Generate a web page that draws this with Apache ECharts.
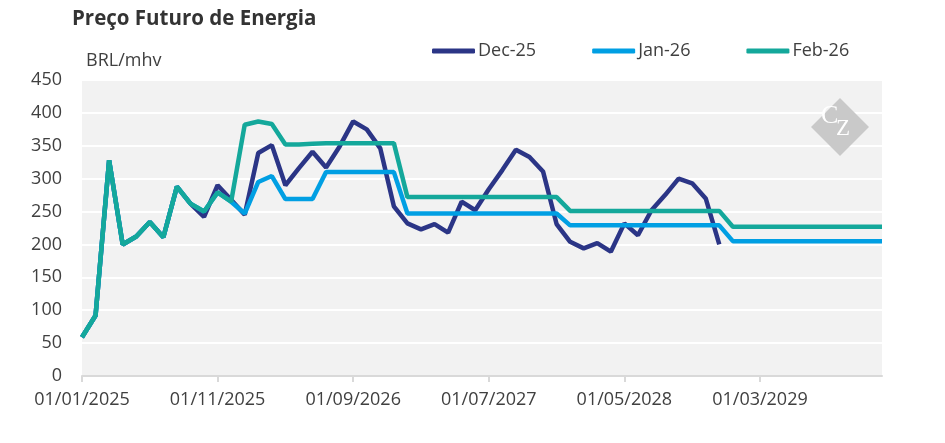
<!DOCTYPE html>
<html>
<head>
<meta charset="utf-8">
<script src="https://cdn.jsdelivr.net/npm/echarts@6/dist/echarts.min.js"></script>
<style>
  html, body { margin: 0; padding: 0; background: #fff; }
  #main { width: 945px; height: 443px; }
</style>
</head>
<body>
<div id="main"></div>
<script>
// meses de jan/2025 a dez/2029
var categories = [];
for (var y = 2025; y <= 2029; y++) {
  for (var m = 1; m <= 12; m++) {
    categories.push('01/' + (m < 10 ? '0' + m : m) + '/' + y);
  }
}

var dec25 = [59, 92, 328, 200, 212, 234, 211, 288, 262, 242, 290, 268,
  245, 339, 351, 290, 316, 341, 317, 349, 387, 375, 346, 258,
  232, 223, 231, 218, 265, 252, 284, 313, 344, 333, 311, 231,
  204, 194, 202, 189, 232, 214, 252, 275, 300, 293, 270, 200];

var jan26 = [59, 92, 328, 200, 212, 234, 211, 288, 262, 250, 279, 265,
  247, 295, 304, 269, 269, 269, 310, 310, 310, 310, 310, 310,
  247, 247, 247, 247, 247, 247, 247, 247, 247, 247, 247, 247,
  229, 229, 229, 229, 229, 229, 229, 229, 229, 229, 229, 229,
  205, 205, 205, 205, 205, 205, 205, 205, 205, 205, 205, 205];

var feb26 = [59, 92, 328, 200, 212, 234, 211, 288, 262, 250, 279, 265,
  382, 387, 383, 352, 352, 353, 354, 354, 354, 354, 354, 354,
  272, 272, 272, 272, 272, 272, 272, 272, 272, 272, 272, 272,
  251, 251, 251, 251, 251, 251, 251, 251, 251, 251, 251, 251,
  227, 227, 227, 227, 227, 227, 227, 227, 227, 227, 227, 227];

var yTicks = [0, 50, 100, 150, 200, 250, 300, 350, 400, 450];

var font = '"Open Sans", sans-serif';
var textColor = '#404040';
var logoFont = 'Liberation Serif';

var myChart = echarts.init(document.getElementById('main'));
myChart.setOption({
  animation: false,
  textStyle: { fontFamily: font },
  title: [
    {
      text: 'Preço Futuro de Energia',
      left: 67,
      top: 4,
      textStyle: { fontFamily: font, fontSize: 20.5, fontWeight: 'bold', color: '#333' }
    },
    {
      text: 'C', left: 821, top: 103, padding: 0, z: 5,
      textStyle: { fontFamily: logoFont, fontSize: 26, fontWeight: 'normal', color: '#ffffff' }
    },
    {
      text: 'Z', left: 836, top: 117, padding: 0, z: 5,
      textStyle: { fontFamily: logoFont, fontSize: 23, fontWeight: 'normal', color: '#ffffff' }
    }
  ],
  color: ['#2b3586', '#009fe3', '#14a89b'],
  legend: {
    left: 427,
    top: 37,
    itemGap: 56,
    itemWidth: 43,
    itemHeight: 5,
    icon: 'roundRect',
    textStyle: { fontFamily: font, fontSize: 18, color: textColor, padding: [0, 0, 0, -2] },
    data: ['Dec-25', 'Jan-26', 'Feb-26']
  },
  grid: {
    left: 82,
    right: 63,
    top: 80,
    bottom: 67,
    show: true,
    backgroundColor: '#f2f2f2',
    borderWidth: 0
  },
  xAxis: {
    type: 'category',
    boundaryGap: false,
    data: categories,
    axisLine: { lineStyle: { color: '#d9d9d9', width: 2 } },
    axisTick: { show: true, interval: 9, length: 6, lineStyle: { color: '#d9d9d9', width: 2 } },
    axisLabel: { interval: 9, margin: 15, fontSize: 18, color: textColor, fontFamily: font }
  },
  yAxis: {
    type: 'value',
    min: yTicks[0],
    max: yTicks[yTicks.length - 1],
    interval: 50,
    name: 'BRL/mhv',
    nameGap: 10,
    nameTextStyle: { align: 'left', fontSize: 18, color: textColor, fontFamily: font, padding: [0, 0, 0, 4] },
    axisLine: { show: false },
    axisTick: { show: false },
    axisLabel: { margin: 20, fontSize: 18, color: textColor, fontFamily: font },
    splitLine: { lineStyle: { color: '#ffffff', width: 2 } }
  },
  graphic: [
    {
      type: 'rect',
      x: 840, y: 98,
      rotation: -Math.PI / 4,
      z: 1,
      shape: { x: 0, y: 0, width: 41, height: 41 },
      style: { fill: '#c9c9c9' }
    }
  ],
  series: [
    { name: 'Dec-25', type: 'line', data: dec25, symbol: 'none', lineStyle: { width: 4.5 } },
    { name: 'Jan-26', type: 'line', data: jan26, symbol: 'none', lineStyle: { width: 4.5 } },
    { name: 'Feb-26', type: 'line', data: feb26, symbol: 'none', lineStyle: { width: 4.5 } }
  ]
});
</script>
</body>
</html>
